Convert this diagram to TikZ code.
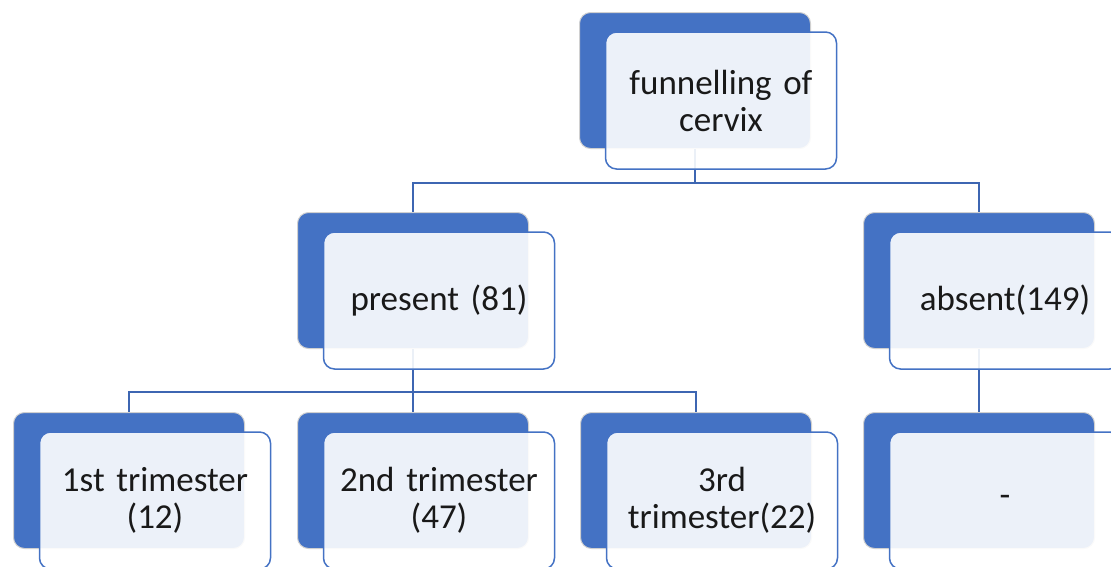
\documentclass[tikz,border=0pt]{standalone}
\usepackage{fontspec}
\setmainfont{Carlito}
\usetikzlibrary{calc}
\definecolor{accent}{HTML}{4472C4}
\definecolor{linec}{HTML}{3D66B2}
\definecolor{edgegray}{HTML}{D0D0D0}
\begin{document}
\begin{tikzpicture}[x=1pt,y=-1pt,
  backbox/.style={draw=edgegray, line width=1pt, fill=accent, rounded corners=11pt,
    minimum width=231pt, minimum height=136pt, anchor=north west, inner sep=0pt},
  frontbox/.style={draw=accent, line width=1.5pt, fill=white, fill opacity=0.9, text opacity=1,
    rounded corners=11pt, minimum width=231pt, minimum height=137pt, anchor=center,
    align=center, text width=215pt, inner sep=0pt, font=\fontsize{35}{37}\selectfont, text=black!90},
  conn/.style={draw=linec, line width=1.8pt}
]
\useasboundingbox (0,0) rectangle (1111,566);
\clip (0,0) rectangle (1111,566);
% back boxes
\node[backbox] (b1) at (579,12) {};
\node[backbox] (b2) at (297,212) {};
\node[backbox] (b3) at (863,212) {};
\node[backbox] (b4) at (13,412) {};
\node[backbox] (b5) at (297,412) {};
\node[backbox] (b6) at (580,412) {};
\node[backbox] (b7) at (863,412) {};
% connectors
\coordinate (h1) at (0,183);
\coordinate (h2) at (0,392);
\draw[conn] (b1.south) -- (b1.south |- h1) -| (b2.north);
\draw[conn] (b1.south |- h1) -| (b3.north);
\draw[conn] (b2.south) -- (b2.south |- h2) -| (b4.north);
\draw[conn] (b2.south |- h2) -- (b5.north);
\draw[conn] (b2.south |- h2) -| (b6.north);
\draw[conn] (b3.south) -- (b7.north);
% front boxes
\node[frontbox] (f1) at ($(b1.center)+(26,20)$) {funnelling of\\cervix};
\node[frontbox] (f2) at ($(b2.center)+(26,20)$) {present (81)};
\node[frontbox] (f3) at ($(b3.center)+(26,20)$) {absent(149)};
\node[frontbox] (f4) at ($(b4.center)+(26,20)$) {1st trimester\\(12)};
\node[frontbox] (f5) at ($(b5.center)+(26,20)$) {2nd trimester\\(47)};
\node[frontbox] (f6) at ($(b6.center)+(26,20)$) {3rd\\trimester(22)};
\node[frontbox] (f7) at ($(b7.center)+(26,20)$) {-};
\end{tikzpicture}
\end{document}
